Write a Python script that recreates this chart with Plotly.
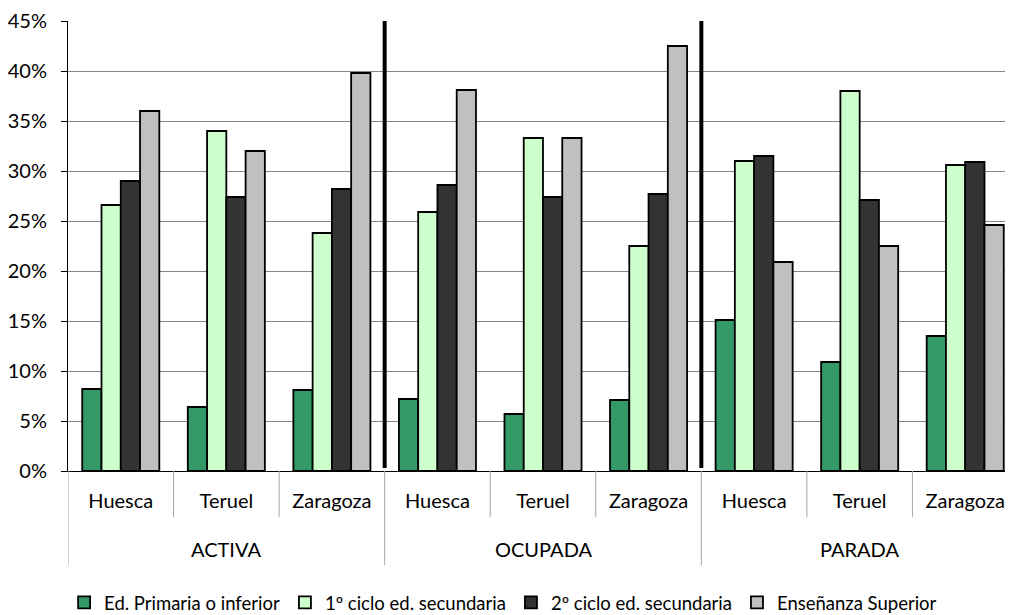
import plotly.graph_objects as go

group_names = ["ACTIVA", "OCUPADA", "PARADA"]
province_names = ["Huesca", "Teruel", "Zaragoza"]
groups = [g for g in group_names for _ in province_names]
provinces = province_names * len(group_names)

series_names = ["Ed. Primaria o inferior", "1º ciclo ed. secundaria",
                "2º ciclo ed. secundaria", "Enseñanza Superior"]
primaria = [8.2, 6.4, 8.1, 7.2, 5.7, 7.1, 15.1, 10.9, 13.5]
ciclo1 = [26.6, 34.0, 23.8, 25.9, 33.3, 22.5, 31.0, 38.0, 30.6]
ciclo2 = [29.0, 27.4, 28.2, 28.6, 27.4, 27.7, 31.5, 27.1, 30.9]
superior = [36.0, 32.0, 39.8, 38.1, 33.3, 42.5, 20.9, 22.5, 24.6]
colors = ["#339966", "#CCFFCC", "#333333", "#C0C0C0"]

y_ticks = [0, 5, 10, 15, 20, 25, 30, 35, 40, 45]
y_labels = [f"{v}%" for v in y_ticks]

FONT = "Lato"
FS = 20
xpos = list(range(len(provinces)))
n_sub = len(province_names)

fig = go.Figure()
for name, vals, col in zip(series_names, [primaria, ciclo1, ciclo2, superior], colors):
    fig.add_trace(go.Bar(
        x=xpos, y=vals, name=name,
        marker=dict(color=col, line=dict(color="black", width=1.8)),
    ))

# thick separators between the groups inside the plot
for gi in range(1, len(group_names)):
    b = gi * n_sub - 0.5
    fig.add_shape(type="line", xref="x", yref="y", x0=b, x1=b, y0=0.3, y1=45,
                  line=dict(color="black", width=4))

# sub-category boundary lines below the axis
for i in range(len(provinces) + 1):
    b = i - 0.5
    is_group = (i % n_sub == 0)
    fig.add_shape(type="line", xref="x", yref="paper", x0=b, x1=b,
                  y0=0, y1=(-0.209 if is_group else -0.102),
                  line=dict(color="#A6A6A6", width=1), layer="above")

# group labels
for gi, g in enumerate(group_names):
    c = gi * n_sub + (n_sub - 1) / 2
    fig.add_annotation(x=c, xref="x", y=-0.173, yref="paper", text=g, showarrow=False,
                       font=dict(family=FONT, size=FS, color="black"),
                       xanchor="center", yanchor="middle")

fig.update_layout(
    width=1010, height=615,
    margin=dict(l=60, r=0, t=13, b=152),
    paper_bgcolor="white", plot_bgcolor="white",
    barmode="group", bargap=0.27, bargroupgap=0,
    font=dict(family=FONT, size=FS, color="black"),
    showlegend=True,
    legend=dict(orientation="h", x=0.458, xanchor="center", y=-0.293, yanchor="middle",
                font=dict(family=FONT, size=18.5), itemwidth=30, traceorder="normal"),
    xaxis=dict(range=[-0.5, len(provinces) - 0.5], tickvals=xpos, ticktext=provinces,
               showline=True, linecolor="black", linewidth=1, ticks="", showgrid=False,
               zeroline=False, tickfont=dict(family=FONT, size=FS), ticklabelstandoff=12),
    yaxis=dict(range=[0, 45], tickvals=y_ticks, ticktext=y_labels,
               showgrid=True, gridcolor="#868686", gridwidth=1,
               showline=True, linecolor="black", linewidth=1,
               ticks="outside", ticklen=6, tickcolor="black", ticklabelstandoff=10,
               tickfont=dict(family=FONT, size=20), zeroline=False),
)

fig.write_html("out.html")
